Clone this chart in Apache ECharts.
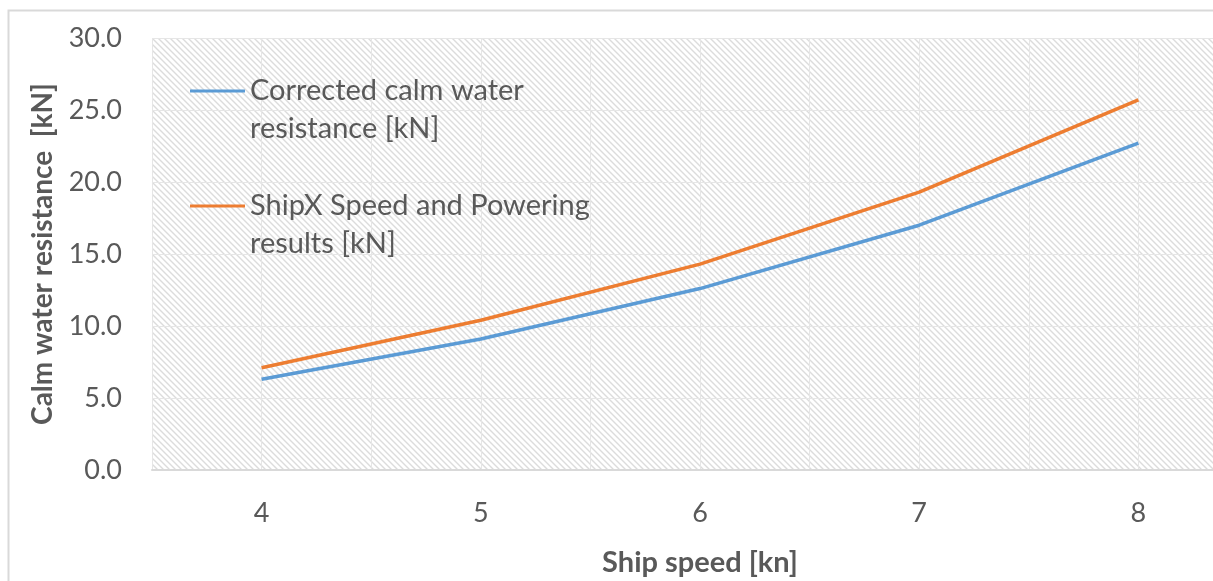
<!DOCTYPE html>
<html>
<head>
<meta charset="utf-8">
<script src="https://cdn.jsdelivr.net/npm/echarts@6/dist/echarts.min.js"></script>
<style>
html,body{margin:0;padding:0;background:#fff;}
#chart{width:1213px;height:581px;}
</style>
</head>
<body>
<div id="chart"></div>
<script>
const speeds = [4, 5, 6, 7, 8];
const correctedResistance = [6.3, 9.1, 12.6, 17.0, 22.7];
const shipxResistance = [7.1, 10.4, 14.3, 19.3, 25.7];
const seriesNames = ['Corrected calm water\nresistance [kN]', 'ShipX Speed and Powering\nresults [kN]'];
const xAxisTitle = 'Ship speed [kn]';
const yAxisTitle = 'Calm water resistance  [kN]';

const FONT = 'Lato';
const GRAY = '#595959';

// hatch pattern
const tile = document.createElement('canvas');
tile.width = 6; tile.height = 6;
const tc = tile.getContext('2d');
tc.fillStyle = '#ffffff';
tc.fillRect(0, 0, 6, 6);
tc.strokeStyle = '#dcdcdc';
tc.lineWidth = 1.4;
tc.beginPath();
tc.moveTo(-1, -1); tc.lineTo(7, 7);
tc.moveTo(-1, 5); tc.lineTo(1, 7);
tc.moveTo(5, -1); tc.lineTo(7, 1);
tc.stroke();

const chart = echarts.init(document.getElementById('chart'), null, {renderer: 'canvas'});
chart.setOption({
  animation: false,
  backgroundColor: '#ffffff',
  graphic: [{
    type: 'rect', left: 6, top: 8, z: -10, silent: true,
    shape: {width: 1400, height: 800},
    style: {fill: 'none', stroke: '#d9d9d9', lineWidth: 2}
  }],
  grid: {
    left: 152, top: 38, width: 1096, height: 432,
    outerBoundsMode: 'none', containLabel: false,
    show: true, borderWidth: 0,
    backgroundColor: {image: tile, repeat: 'repeat'}
  },
  legend: {
    orient: 'vertical', left: 190, top: 34, padding: 0, itemGap: 1,
    icon: 'rect', itemWidth: 55, itemHeight: 3,
    textStyle: {fontFamily: FONT, fontSize: 29, color: GRAY, lineHeight: 38},
    formatter: name => ' \n' + name,
    data: seriesNames
  },
  xAxis: {
    type: 'value', min: 3.5, max: 8.5, interval: 0.5,
    name: xAxisTitle, nameLocation: 'middle', nameGap: 78,
    nameTextStyle: {fontFamily: FONT, fontSize: 29, fontWeight: 'bold', color: GRAY},
    axisLine: {show: true, lineStyle: {color: '#d9d9d9', width: 2}},
    axisTick: {show: false},
    axisLabel: {
      margin: 30, fontFamily: FONT, fontSize: 27, color: GRAY,
      formatter: v => (Math.abs(v - Math.round(v)) < 1e-9 && speeds.includes(Math.round(v))) ? String(Math.round(v)) : ''
    },
    splitLine: {show: true, lineStyle: {color: '#e6e6e6', width: 1}}
  },
  yAxis: {
    type: 'value', min: 0, max: 30, interval: 5,
    name: yAxisTitle, nameLocation: 'middle', nameGap: 95,
    nameTextStyle: {fontFamily: FONT, fontSize: 28, fontWeight: 'bold', color: GRAY},
    axisLine: {show: false}, axisTick: {show: false},
    axisLabel: {margin: 30, fontFamily: FONT, fontSize: 27, color: GRAY, formatter: v => v.toFixed(1)},
    splitLine: {show: true, lineStyle: {color: '#e6e6e6', width: 1}}
  },
  series: [
    {
      name: seriesNames[0], type: 'line', showSymbol: false, symbol: 'none',
      color: '#5B9BD5', lineStyle: {width: 3.5, color: '#5B9BD5'},
      data: speeds.map((s, i) => [s, correctedResistance[i]])
    },
    {
      name: seriesNames[1], type: 'line', showSymbol: false, symbol: 'none',
      color: '#ED7D31', lineStyle: {width: 3.5, color: '#ED7D31'},
      data: speeds.map((s, i) => [s, shipxResistance[i]])
    }
  ]
});
</script>
</body>
</html>
